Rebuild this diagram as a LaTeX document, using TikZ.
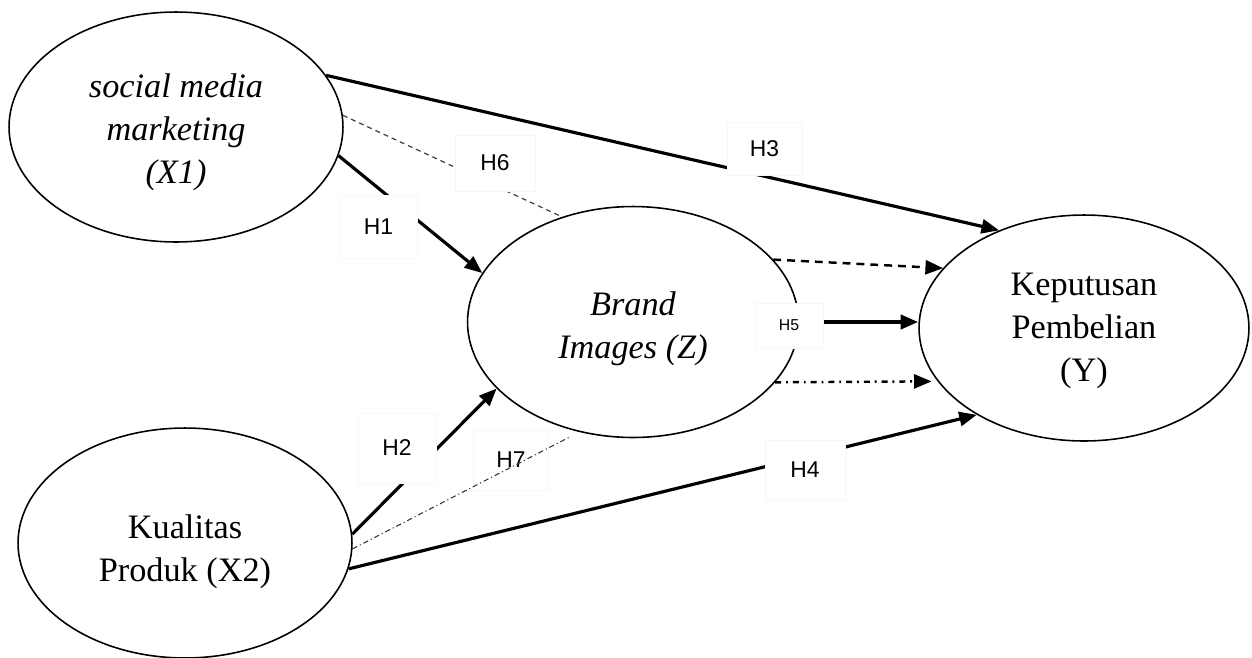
\documentclass[tikz,border=0pt]{standalone}
\usepackage{fontspec}
\setmainfont{Liberation Serif}
\newfontfamily\labelfont{Liberation Sans}
\usetikzlibrary{shapes.geometric,arrows.meta}

\begin{document}
\begin{tikzpicture}[x=0.02cm,y=-0.02cm,
  construct/.style={draw, ellipse, line width=0.9pt, inner sep=0pt},
  caption/.style={align=center, inner sep=0pt, font=\fontsize{19.5}{24.5}\selectfont},
  tip/.style={-{Triangle[length=10pt,width=8pt]}},
  link/.style={tip, line width=1.8pt},
  hyp/.style={fill=white, draw=black!3, line width=0.4pt, inner sep=0pt,
    font=\labelfont\fontsize{13}{15}\selectfont},
  smallhyp/.style={hyp, font=\labelfont\fontsize{9}{11}\selectfont}
]
\useasboundingbox (0,0) rectangle (1252,657);

% latent constructs
\node[construct, minimum width=6.68cm, minimum height=4.6cm] (X1) at (176,127) {};
\node[construct, minimum width=6.68cm, minimum height=4.6cm] (X2) at (185,543) {};
\node[construct, minimum width=6.62cm, minimum height=4.62cm] (Z) at (633,322) {};
\node[construct, minimum width=6.6cm, minimum height=4.52cm] (Y) at (1084,328) {};

\node[caption] (X1t) at ([yshift=-0.1cm]X1.center)
  {\itshape social media\\ \itshape marketing\\ \itshape (X1)};
\node[caption] (X2t) at ([yshift=-0.18cm]X2.center) {Kualitas\\ Produk (X2)};
\node[caption] (Zt) at ([yshift=-0.14cm]Z.center) {\itshape Brand\\ \itshape Images (Z)};
\node[caption] (Yt) at ([yshift=-0.06cm]Y.center) {Keputusan\\ Pembelian\\ (Y)};

% H7 label sits under its own line
\node[draw=black!3, line width=0.4pt, inner sep=0pt, minimum width=1.5cm, minimum height=1.2cm,
  font=\labelfont\fontsize{13}{15}\selectfont] (h7) at (511,460) {H7};

% direct effects
\draw[link] (X1.-10) -- (Z.162);
\draw[link] (X2.3) -- (Z.206.6);
\draw[link] (X1.19) -- (Y.131.7);
\draw[link] (X2.-9.5) -- (Y.219);
\draw[tip, line width=2.2pt] (Z.east) -- (Z.east -| Y.west);

% mediated effects
\draw[black!75, line width=0.7pt, dash pattern=on 2.8pt off 2.3pt] (X1.4) -- (Z.124.3);
\draw[black!80, line width=0.6pt, dash pattern=on 3pt off 1.7pt on 0.6pt off 1.7pt, shorten >=5.7pt]
  (X2.-2) -- (Z.244.6);
\draw[tip, line width=1.4pt, dash pattern=on 4.5pt off 3.4pt] (Z.24) -- (Y.157);
\draw[tip, line width=1.4pt, dash pattern=on 3.4pt off 2.8pt on 1.1pt off 2.8pt, shorten >=3.4pt]
  (Z.-23) -- (Y.200);

% hypothesis labels
\node[hyp, minimum width=1.54cm, minimum height=1.26cm] (h1) at (378.5,226.5) {H1};
\node[hyp, minimum width=1.56cm, minimum height=1.4cm] (h2) at (397,448) {H2};
\node[hyp, minimum width=1.5cm, minimum height=1.06cm] (h3) at (764.5,148.5) {H3};
\node[hyp, minimum width=1.6cm, minimum height=1.2cm] (h4) at (805,470) {H4};
\node[smallhyp, minimum width=1.36cm, minimum height=0.9cm] (h5) at (789,325.5) {H5};
\node[hyp, minimum width=1.6cm, minimum height=1.12cm] (h6) at (495,163) {H6};
\end{tikzpicture}
\end{document}
